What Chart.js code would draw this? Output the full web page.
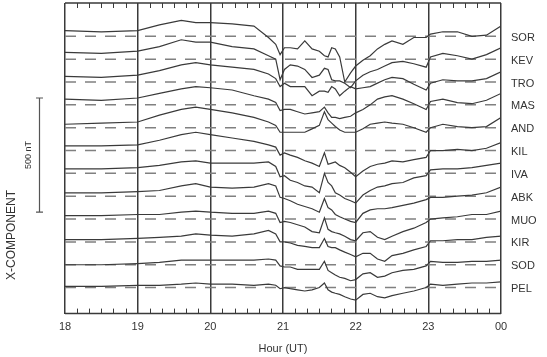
<!DOCTYPE html>
<html>
<head>
<meta charset="utf-8">
<script src="https://cdn.jsdelivr.net/npm/chart.js@4.4.1/dist/chart.umd.min.js"></script>
<style>
    html, body { margin: 0; padding: 0; background: #fff; }
    #wrap { width: 547px; height: 357px; }
</style>
</head>
<body>
<div id="wrap"><canvas id="stackChart"></canvas></div>
<script>
// sample times (UT hours, 24 = 00)
const hours = [18.0, 18.5, 19.0, 19.3, 19.6, 19.8, 20.0, 20.3, 20.6, 20.8,
    20.9, 20.96, 21.02, 21.1, 21.2, 21.3, 21.4, 21.5, 21.57, 21.62,
    21.67, 21.72, 21.78, 21.85, 21.93, 22.0, 22.1, 22.2, 22.3, 22.4,
    22.5, 22.65, 22.8, 22.97, 23.03, 23.2, 23.4, 23.6, 23.8, 24.0];
const hourLabels = ['18', '19', '20', '21', '22', '23', '00'];
const stations = ['SOR', 'KEV', 'TRO', 'MAS', 'AND', 'KIL', 'IVA', 'ABK', 'MUO', 'KIR', 'SOD', 'PEL'];

// X-component deviation from each station's baseline (nT)
const SOR = [25,20,25,50,70,60,60,55,45,-5,-35,-80,-50,-50,-55,-20,-55,-65,-85,-90,-50,-55,-90,-200,-160,-130,-105,-85,-55,-35,-20,-35,-5,-5,10,20,20,0,5,45];
const KEV = [30,25,35,55,85,75,75,55,45,15,0,-90,-45,-25,-30,-45,-80,-70,-40,-45,-90,-95,-95,-105,-125,-95,-70,-55,-45,-30,-15,-10,-20,-35,10,25,15,0,20,50];
const TRO = [25,20,30,50,75,85,75,65,55,35,15,-20,-5,-20,-20,-20,-60,-40,-40,-45,-20,-30,-60,-40,-20,-30,-25,-20,-5,10,20,15,-10,-35,-5,10,5,5,15,45];
const MAS = [25,20,30,50,70,80,75,65,40,25,10,-25,-20,-20,-30,-40,-35,-30,-10,-35,-55,-55,-60,-55,-50,-35,-20,0,25,35,40,25,5,-20,15,25,10,5,20,50];
const AND = [15,20,25,55,80,90,80,65,45,25,10,-20,-20,-20,-20,-20,-5,10,70,35,20,5,-10,-20,-20,-20,-5,15,20,25,20,15,0,-20,0,15,5,0,5,45];
const KIL = [20,20,25,45,70,80,70,55,40,25,15,-20,-10,-20,-30,-45,-55,-70,-10,-60,-55,-50,-65,-75,-95,-115,-90,-70,-60,-55,-45,-50,-40,-30,0,0,5,0,10,35];
const IVA = [20,20,25,35,50,55,45,45,45,50,30,-15,-10,-30,-40,-55,-60,-85,0,-40,-55,-85,-95,-110,-120,-130,-95,-75,-60,-55,-45,-40,-20,-10,15,20,20,25,35,45];
const ABK = [15,15,20,25,45,55,40,35,40,55,45,-5,-10,-20,-35,-45,-55,-70,-10,-50,-60,-80,-90,-100,-110,-115,-75,-60,-55,-55,-50,-40,-30,-15,-5,-5,0,5,15,40];
const MUO = [15,15,20,20,30,35,30,25,25,35,25,-15,-10,-15,-25,-35,-55,-60,5,-45,-55,-60,-65,-75,-90,-95,-60,-55,-80,-90,-75,-55,-40,-15,0,5,10,20,20,35];
const KIR = [10,10,15,20,25,35,30,25,35,50,35,0,0,-5,-15,-20,-25,-25,15,-20,-25,-25,-35,-45,-55,-65,-50,-50,-75,-85,-60,-50,-35,-20,5,5,10,10,20,25];
const SOD = [0,0,5,10,20,20,20,20,20,25,20,-5,-10,-10,-20,-20,-20,-20,15,-25,-35,-45,-55,-60,-70,-65,-40,-35,-55,-50,-35,-25,-20,-5,15,10,10,15,15,20];
const PEL = [5,5,10,10,15,20,15,15,10,15,10,-5,0,-5,-10,-15,-10,0,20,-10,-20,-25,-30,-40,-50,-55,-30,-25,-40,-45,-35,-25,-15,0,15,10,15,20,20,25];

const traces = [SOR, KEV, TRO, MAS, AND, KIL, IVA, ABK, MUO, KIR, SOD, PEL];
const stationSpacing = 100;      // nT between stacked baselines
const scaleBar = [330, 830];     // 500 nT reference bar

const datasets = [];
stations.forEach((name, i) => {
    const base = stationSpacing * (stations.length - 1 - i);
    datasets.push({
        label: name,
        data: hours.map((t, j) => ({x: t, y: base + traces[i][j]})),
        borderColor: '#3a3a3a',
        borderWidth: 1.2,
        pointRadius: 0,
        tension: 0,
        order: 1
    });
    datasets.push({
        label: name + ' base',
        data: [{x: 18, y: base}, {x: 24, y: base}],
        borderColor: '#808080',
        borderWidth: 1.5,
        borderDash: [11, 9],
        pointRadius: 0,
        order: 2
    });
});

const decorations = {
    id: 'decorations',
    afterDraw(chart) {
        const {ctx, chartArea: a, scales: {x, y}} = chart;
        ctx.save();
        ctx.strokeStyle = '#3a3a3a';
        ctx.lineWidth = 1.5;
        ctx.beginPath();
        ctx.moveTo(a.left, a.top); ctx.lineTo(a.right, a.top);
        ctx.moveTo(a.left, a.bottom); ctx.lineTo(a.right, a.bottom);
        ctx.stroke();

        // 10 minute ticks, pointing inward
        ctx.lineWidth = 1;
        ctx.beginPath();
        for (let k = 1; k < 36; k++) {
            if (k % 6 === 0) continue;
            const px = Math.round(x.getPixelForValue(18 + k / 6)) + 0.5;
            ctx.moveTo(px, a.top); ctx.lineTo(px, a.top + 5);
            ctx.moveTo(px, a.bottom); ctx.lineTo(px, a.bottom - 5);
        }
        ctx.stroke();

        // station names
        ctx.fillStyle = '#333';
        ctx.font = '11px "Liberation Sans", Arial, sans-serif';
        ctx.textAlign = 'left';
        ctx.textBaseline = 'middle';
        stations.forEach((name, i) => {
            const py = y.getPixelForValue(stationSpacing * (stations.length - 1 - i));
            ctx.fillText(name, 511, py + 1.5);
        });

        // scale bar
        const y0 = y.getPixelForValue(scaleBar[0]);
        const y1 = y.getPixelForValue(scaleBar[1]);
        ctx.strokeStyle = '#555';
        ctx.lineWidth = 1.2;
        ctx.beginPath();
        ctx.moveTo(39.5, y0); ctx.lineTo(39.5, y1);
        ctx.moveTo(36, y0); ctx.lineTo(43, y0);
        ctx.moveTo(36, y1); ctx.lineTo(43, y1);
        ctx.stroke();

        ctx.textAlign = 'center';
        ctx.font = '9px "Liberation Sans", Arial, sans-serif';
        ctx.translate(29, (y0 + y1) / 2);
        ctx.rotate(-Math.PI / 2);
        ctx.fillText('500 nT', 0, 0);
        ctx.restore();

        ctx.save();
        ctx.fillStyle = '#333';
        ctx.font = '12px "Liberation Sans", Arial, sans-serif';
        ctx.textAlign = 'center';
        ctx.textBaseline = 'middle';
        ctx.translate(12, 235);
        ctx.rotate(-Math.PI / 2);
        ctx.fillText('X-COMPONENT', 0, 0);
        ctx.restore();
    }
};

new Chart(document.getElementById('stackChart'), {
    type: 'line',
    data: {datasets},
    options: {
        responsive: true,
        maintainAspectRatio: false,
        animation: false,
        layout: {padding: {left: 65, right: 46, top: 3, bottom: 0}},
        scales: {
            x: {
                type: 'linear',
                min: 18,
                max: 24,
                ticks: {
                    stepSize: 1,
                    autoSkip: false,
                    maxRotation: 0,
                    padding: 7,
                    color: '#333',
                    font: {family: '"Liberation Sans", Arial, sans-serif', size: 11},
                    callback: v => hourLabels[Math.round(v - 18)]
                },
                grid: {color: '#3a3a3a', lineWidth: 1.5, drawTicks: false},
                border: {display: false},
                title: {
                    display: true,
                    text: 'Hour (UT)',
                    color: '#333',
                    font: {family: '"Liberation Sans", Arial, sans-serif', size: 11},
                    padding: {top: 2, bottom: 1}
                }
            },
            y: {
                display: false,
                min: -114,
                max: 1246
            }
        },
        plugins: {
            legend: {display: false},
            tooltip: {enabled: false}
        }
    },
    plugins: [decorations]
});
</script>
</body>
</html>
